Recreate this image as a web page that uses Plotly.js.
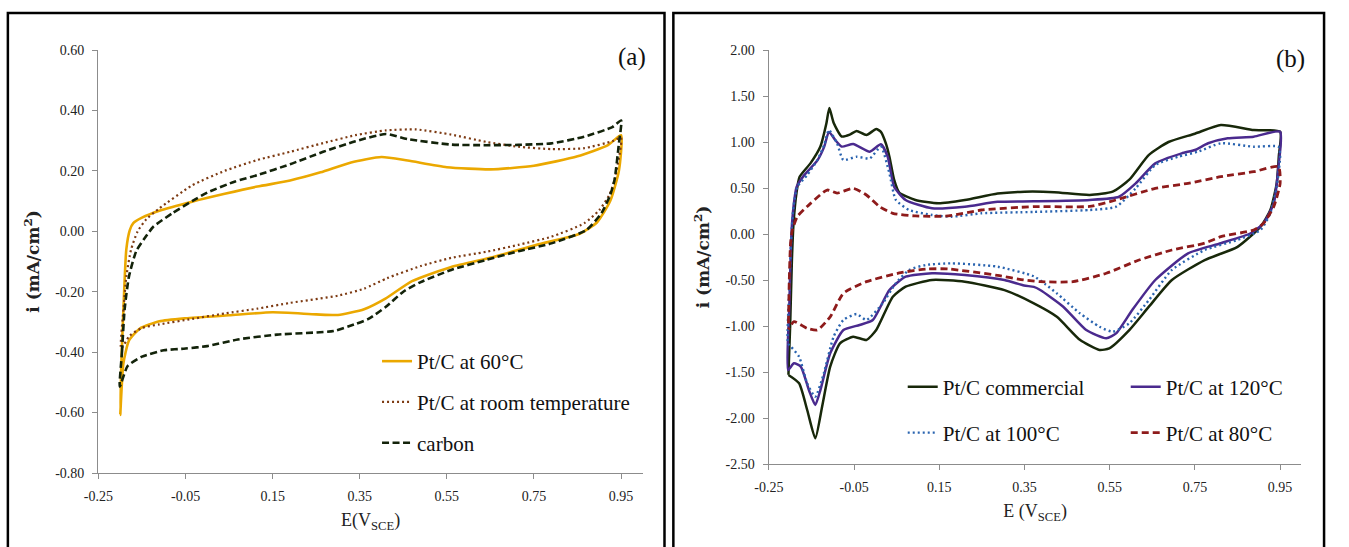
<!DOCTYPE html>
<html><head><meta charset="utf-8">
<script src="https://cdn.plot.ly/plotly-3.0.1.min.js"></script>
<style>html,body{margin:0;padding:0;background:#fff;overflow:hidden;width:100%;height:100%}#chart{width:100vw;height:100vh;overflow:hidden}</style>
</head><body><div id="chart"></div>
<script>
// ---------- Panel (a) data: E (V vs SCE), i (mA/cm2) ----------
const E_a60 = [-0.200,-0.197,-0.193,-0.186,-0.178,-0.170,-0.150,-0.110,-0.035,0.040,0.115,0.190,0.260,0.330,0.400,0.460,0.550,0.650,0.750,0.850,0.920,0.950,
  0.945,0.925,0.895,0.855,0.756,0.657,0.560,0.470,0.410,0.360,0.300,0.250,0.150,0.050,-0.050,-0.110,-0.155,-0.180,-0.193,-0.200];
const I_a60 = [-0.608,-0.42,-0.27,-0.06,0.004,0.027,0.045,0.068,0.098,0.124,0.148,0.168,0.195,0.228,0.246,0.234,0.212,0.205,0.217,0.248,0.285,0.318,
  0.200,0.100,0.030,-0.008,-0.045,-0.085,-0.118,-0.165,-0.222,-0.258,-0.277,-0.275,-0.268,-0.278,-0.288,-0.298,-0.322,-0.362,-0.440,-0.608];

const E_aRT = [-0.198,-0.192,-0.186,-0.175,-0.160,-0.140,-0.111,-0.035,0.040,0.115,0.190,0.266,0.340,0.410,0.480,0.560,0.640,0.714,0.790,0.865,0.930,0.950,
  0.935,0.923,0.900,0.865,0.790,0.714,0.640,0.560,0.490,0.413,0.360,0.300,0.190,0.115,0.040,-0.035,-0.110,-0.150,-0.178,-0.198];
const I_aRT = [-0.388,-0.250,-0.150,-0.060,0.000,0.040,0.075,0.152,0.200,0.236,0.263,0.292,0.318,0.334,0.337,0.320,0.296,0.280,0.272,0.275,0.298,0.310,
  0.170,0.120,0.070,0.026,-0.018,-0.045,-0.068,-0.088,-0.115,-0.155,-0.190,-0.213,-0.237,-0.256,-0.272,-0.290,-0.308,-0.320,-0.345,-0.388];

const E_aC = [-0.201,-0.196,-0.190,-0.180,-0.163,-0.140,-0.124,-0.080,-0.035,0.000,0.064,0.115,0.190,0.266,0.340,0.410,0.460,0.560,0.640,0.714,0.790,0.865,0.930,0.950,
  0.945,0.935,0.925,0.905,0.870,0.790,0.714,0.640,0.560,0.490,0.450,0.410,0.370,0.340,0.290,0.160,0.070,0.000,-0.050,-0.100,-0.150,-0.183,-0.201];
const I_aC = [-0.514,-0.400,-0.260,-0.150,-0.065,-0.015,0.015,0.060,0.100,0.128,0.165,0.186,0.222,0.263,0.298,0.322,0.305,0.287,0.285,0.286,0.291,0.313,0.345,0.367,
  0.290,0.170,0.120,0.060,0.004,-0.040,-0.066,-0.095,-0.128,-0.168,-0.200,-0.250,-0.290,-0.307,-0.330,-0.342,-0.358,-0.380,-0.388,-0.394,-0.415,-0.446,-0.514];

// ---------- Panel (b) data ----------
const E_bCom = [-0.204,-0.200,-0.196,-0.192,-0.185,-0.178,-0.152,-0.129,-0.115,-0.108,-0.098,-0.079,-0.060,-0.044,-0.021,0.002,0.013,0.025,0.033,0.044,0.056,0.094,0.148,0.210,0.287,0.350,0.420,0.503,0.557,0.596,0.642,0.688,0.750,0.811,0.888,0.950,
  0.947,0.942,0.927,0.904,0.850,0.773,0.696,0.642,0.596,0.549,0.526,0.480,0.426,0.372,0.303,0.210,0.133,0.071,0.041,0.002,-0.021,-0.052,-0.083,-0.106,-0.125,-0.141,-0.160,-0.179,-0.204];
const I_bCom = [-1.53,-1.00,-0.30,0.12,0.45,0.62,0.77,0.95,1.20,1.37,1.21,1.06,1.08,1.12,1.076,1.14,1.11,0.98,0.84,0.59,0.45,0.37,0.335,0.37,0.44,0.46,0.455,0.425,0.46,0.59,0.86,1.00,1.09,1.185,1.13,1.112,
  0.85,0.55,0.26,0.08,-0.14,-0.283,-0.50,-0.79,-1.044,-1.243,-1.26,-1.15,-0.90,-0.754,-0.61,-0.518,-0.50,-0.573,-0.682,-1.044,-1.152,-1.116,-1.188,-1.442,-1.877,-2.221,-1.913,-1.623,-1.533];

const E_b120 = [-0.205,-0.202,-0.197,-0.192,-0.185,-0.167,-0.136,-0.120,-0.109,-0.094,-0.079,-0.052,-0.013,0.013,0.029,0.044,0.071,0.133,0.210,0.287,0.372,0.503,0.572,0.611,0.657,0.719,0.750,0.781,0.827,0.888,0.950,
  0.946,0.935,0.911,0.881,0.811,0.734,0.657,0.603,0.565,0.542,0.495,0.441,0.387,0.372,0.349,0.303,0.210,0.133,0.071,0.033,-0.006,-0.037,-0.075,-0.106,-0.129,-0.141,-0.156,-0.175,-0.191,-0.205];
const I_b120 = [-1.478,-0.80,0.00,0.30,0.51,0.64,0.80,0.95,1.11,1.02,0.95,0.978,0.895,0.975,0.84,0.514,0.37,0.28,0.297,0.35,0.355,0.37,0.405,0.55,0.768,0.877,0.913,0.986,1.04,1.058,1.112,
  0.73,0.333,0.116,0.008,-0.10,-0.21,-0.50,-0.826,-1.08,-1.134,-1.044,-0.79,-0.609,-0.575,-0.56,-0.50,-0.446,-0.427,-0.464,-0.609,-0.935,-0.989,-1.044,-1.297,-1.696,-1.859,-1.696,-1.442,-1.406,-1.478];

const E_b100 = [-0.205,-0.202,-0.197,-0.192,-0.183,-0.160,-0.136,-0.120,-0.109,-0.090,-0.075,-0.044,-0.013,0.013,0.033,0.048,0.079,0.133,0.179,0.249,0.372,0.503,0.565,0.611,0.657,0.711,0.757,0.811,0.888,0.946,
  0.950,0.942,0.927,0.904,0.850,0.773,0.696,0.642,0.596,0.557,0.526,0.480,0.426,0.400,0.372,0.287,0.179,0.118,0.079,0.048,0.017,-0.021,-0.044,-0.075,-0.098,-0.121,-0.141,-0.160,-0.179,-0.198,-0.205];
const I_b100 = [-1.19,-0.60,0.00,0.30,0.514,0.641,0.804,0.97,1.13,0.986,0.804,0.84,0.822,0.949,0.659,0.37,0.261,0.207,0.188,0.225,0.24,0.261,0.297,0.496,0.75,0.84,0.895,0.986,0.949,0.949,
  0.85,0.514,0.225,0.044,-0.065,-0.174,-0.391,-0.718,-0.971,-1.062,-1.008,-0.862,-0.645,-0.55,-0.46,-0.355,-0.319,-0.337,-0.391,-0.536,-0.754,-0.935,-0.87,-0.935,-1.116,-1.514,-1.768,-1.623,-1.334,-1.225,-1.19];

const E_b80 = [-0.204,-0.202,-0.199,-0.195,-0.183,-0.152,-0.113,-0.090,-0.052,-0.021,0.010,0.041,0.094,0.171,0.249,0.372,0.503,0.565,0.657,0.734,0.811,0.888,0.946,
  0.950,0.935,0.911,0.888,0.811,0.773,0.696,0.619,0.542,0.464,0.387,0.349,0.287,0.171,0.120,0.060,-0.021,-0.075,-0.106,-0.136,-0.160,-0.191,-0.204];
const I_b80 = [-0.97,-0.50,-0.10,0.04,0.19,0.333,0.478,0.445,0.496,0.424,0.297,0.225,0.196,0.196,0.261,0.297,0.30,0.37,0.496,0.551,0.623,0.677,0.732,
  0.55,0.297,0.116,0.043,-0.029,-0.10,-0.174,-0.283,-0.427,-0.518,-0.518,-0.50,-0.45,-0.38,-0.38,-0.42,-0.518,-0.645,-0.90,-1.044,-1.026,-0.953,-1.04];

// ---------- Tick labels ----------
const xTickVals = [-0.25,-0.05,0.15,0.35,0.55,0.75,0.95];
const xTickText = ["-0.25","-0.05","0.15","0.35","0.55","0.75","0.95"];
const yTickValsA = [-0.8,-0.6,-0.4,-0.2,0,0.2,0.4,0.6];
const yTickTextA = ["-0.80","-0.60","-0.40","-0.20","0.00","0.20","0.40","0.60"];
const yTickValsB = [-2.5,-2,-1.5,-1,-0.5,0,0.5,1,1.5,2];
const yTickTextB = ["-2.50","-2.00","-1.50","-1.00","-0.50","0.00","0.50","1.00","1.50","2.00"];

const namesA = ["Pt/C at 60°C","Pt/C at room temperature","carbon"];
const namesB = ["Pt/C commercial","Pt/C at 120°C","Pt/C at 100°C","Pt/C at 80°C"];

// reference frame is 1349 x 547; positions are given as fractions of it
const RW = 1349, RH = 547;
const W = window.innerWidth || RW, H = window.innerHeight || RH;
const px = v => v / RW, py = v => 1 - v / RH;
const sx = W / RW;
const SM = 0.55;

function tr(x, y, name, color, width, dash, xa, ya, legend, group) {
  return {type:'scatter', mode:'lines', x:x, y:y, name:name, xaxis:xa, yaxis:ya,
    legend:legend, legendgroup:group,
    line:{color:color, width:width, dash:dash, shape:'spline', smoothing:SM},
    hoverinfo:'skip'};
}

const data = [
  tr(E_a60, I_a60, namesA[0], '#EBA800', 2.6, 'solid', 'x', 'y', 'legend', 'a1'),
  tr(E_aRT, I_aRT, namesA[1], '#7d3a12', 2.2, '2px,3px', 'x', 'y', 'legend', 'a2'),
  tr(E_aC, I_aC, namesA[2], '#13230a', 2.6, '7px,3.5px', 'x', 'y', 'legend', 'a3'),
  tr(E_bCom, I_bCom, namesB[0], '#18280a', 2.5, 'solid', 'x2', 'y2', 'legend2', 'b1'),
  tr(E_b120, I_b120, namesB[1], '#4a2a8e', 2.5, 'solid', 'x2', 'y2', 'legend2', 'b2'),
  tr(E_b100, I_b100, namesB[2], '#2a64b0', 2.4, '2px,3px', 'x2', 'y2', 'legend3', 'b3'),
  tr(E_b80, I_b80, namesB[3], '#8e1b1b', 2.8, '7px,4px', 'x2', 'y2', 'legend3', 'b4')
];

const SERIF = "'Liberation Serif', 'DejaVu Serif', serif";
const tickFont = {family:SERIF, size:14, color:'#222'};
const axBase = {showline:true, linecolor:'#8c8c8c', linewidth:1.3, ticks:'outside', ticklen:5,
  tickcolor:'#8c8c8c', tickwidth:1, showgrid:false, zeroline:false, tickfont:tickFont,
  tickmode:'array', fixedrange:true};
const xTitleFont = {family:SERIF, size:18, color:'#222'};
const yTitleFont = {family:"'DejaVu Serif', serif", size:17, color:'#222', weight:'bold'};
const legFont = {family:SERIF, size:21, color:'#111'};

const layout = {
  width:W, height:H, margin:{l:0,r:0,t:0,b:0}, paper_bgcolor:'#fff', plot_bgcolor:'#fff',
  showlegend:true,
  xaxis: Object.assign({}, axBase, {domain:[px(100), px(653)], range:[-0.25,1.0], anchor:'y',
    tickvals:xTickVals, ticktext:xTickText, ticklabelstandoff:5,
    title:{text:'E(V<sub>SCE</sub>)', font:xTitleFont, standoff:10}}),
  yaxis: Object.assign({}, axBase, {domain:[py(473), py(50)], range:[-0.8,0.6], anchor:'x',
    tickvals:yTickValsA, ticktext:yTickTextA, ticklabelstandoff:5,
    title:{text:'i (mA/cm<sup>2</sup>)', font:yTitleFont, standoff:11}}),
  xaxis2: Object.assign({}, axBase, {domain:[px(781), px(1322)], range:[-0.25,1.0], anchor:'y2',
    tickvals:xTickVals, ticktext:xTickText, ticklabelstandoff:5,
    title:{text:'E (V<sub>SCE</sub>)', font:xTitleFont, standoff:10}}),
  yaxis2: Object.assign({}, axBase, {domain:[py(464), py(50)], range:[-2.5,2.0], anchor:'x2',
    tickvals:yTickValsB, ticktext:yTickTextB, ticklabelstandoff:5,
    title:{text:'i (mA/cm<sup>2</sup>)', font:yTitleFont, standoff:11}}),
  legend: {x:px(383), y:py(341), xanchor:'left', yanchor:'top', font:legFont,
    bgcolor:'rgba(0,0,0,0)', borderwidth:0, traceorder:'grouped', tracegroupgap:10.5},
  legend2: {x:px(917), y:py(387), xanchor:'left', yanchor:'middle', orientation:'h',
    entrywidth:178*sx, entrywidthmode:'pixels', font:legFont, bgcolor:'rgba(0,0,0,0)', borderwidth:0},
  legend3: {x:px(917), y:py(433), xanchor:'left', yanchor:'middle', orientation:'h',
    entrywidth:178*sx, entrywidthmode:'pixels', font:legFont, bgcolor:'rgba(0,0,0,0)', borderwidth:0},
  annotations: [
    {text:'(a)', xref:'paper', yref:'paper', x:px(642), y:py(57), xanchor:'center', yanchor:'middle',
     showarrow:false, font:{family:SERIF, size:25, color:'#111'}},
    {text:'(b)', xref:'paper', yref:'paper', x:px(1311), y:py(59), xanchor:'center', yanchor:'middle',
     showarrow:false, font:{family:SERIF, size:25, color:'#111'}}
  ],
  shapes: [
    {type:'rect', xref:'paper', yref:'paper', x0:px(8), x1:px(675), y0:-0.05, y1:py(13),
     line:{color:'#000', width:2.5}, fillcolor:'rgba(0,0,0,0)'},
    {type:'rect', xref:'paper', yref:'paper', x0:px(684), x1:px(1345), y0:-0.05, y1:py(13),
     line:{color:'#000', width:2.5}, fillcolor:'rgba(0,0,0,0)'}
  ]
};

Plotly.newPlot('chart', data, layout, {displayModeBar:false, staticPlot:true});
</script></body></html>
